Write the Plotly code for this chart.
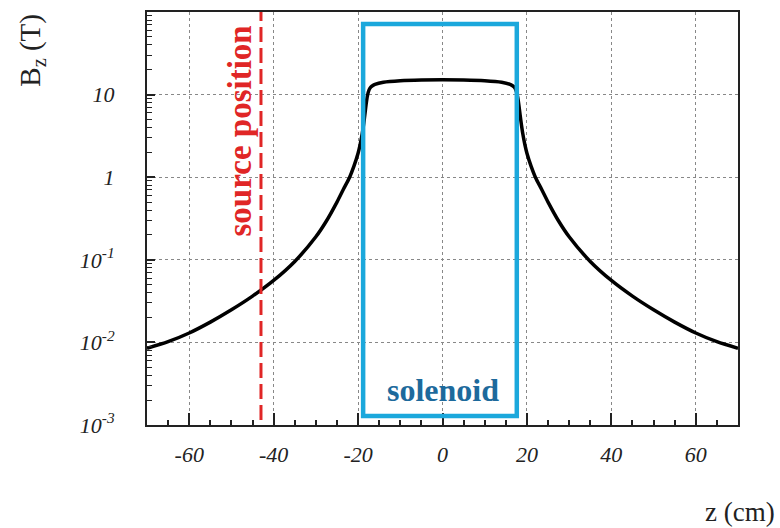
import plotly.graph_objects as go

# Axial field profile B_z(z) along the solenoid axis
z_cm = [-70, -65, -60, -55, -50, -45, -40, -35, -30, -27.5, -25, -23.5, -22, -21, -20,
        -19.5, -19, -18.7, -18.4, -18.1, -17.8, -17.4, -17, -16.5, -16, -14, -10, -5, 0,
        5, 10, 14, 16, 16.5, 17, 17.4, 17.8, 18.1, 18.4, 18.7, 19, 19.5, 20, 21, 22, 23.5, 25, 27.5, 30,
        35, 40, 45, 50, 55, 60, 65, 70]
bz_tesla = [0.0085, 0.0102, 0.0130, 0.0176, 0.0248, 0.0363, 0.0562, 0.0955, 0.19, 0.295, 0.50, 0.71, 1.0, 1.35, 1.95,
            2.5, 3.4, 4.3, 5.7, 7.6, 9.6, 11.4, 12.3, 12.9, 13.3, 14.1, 14.7, 15.0, 15.1,
            15.0, 14.7, 14.1, 13.3, 12.9, 12.3, 11.3, 9.4, 7.4, 5.6, 4.3, 3.4, 2.5, 1.95, 1.35, 1.0, 0.71, 0.50, 0.295, 0.19,
            0.0955, 0.0562, 0.0363, 0.0248, 0.0176, 0.0130, 0.0102, 0.0085]

# Geometry annotations
source_z = -43
solenoid_z = [-18.8, 17.6]

# Tick labels
x_tickvals = [-60, -40, -20, 0, 20, 40, 60]
x_ticktext = ["-60", "-40", "-20", "0", "20", "40", "60"]
y_tickvals = [1e-3, 1e-2, 1e-1, 1, 10]
y_ticktext = ["10<sup>-3</sup>", "10<sup>-2</sup>", "10<sup>-1</sup>", "1", "10"]

SERIF = "Liberation Serif, Times New Roman, serif"

fig = go.Figure()
fig.add_trace(go.Scatter(
    x=z_cm, y=bz_tesla, mode="lines",
    line=dict(color="black", width=3.5, shape="spline", smoothing=0.8),
    showlegend=False, hoverinfo="skip",
))

# source position marker
fig.add_shape(type="line", xref="x", yref="paper",
              x0=source_z, x1=source_z, y0=0.012, y1=1.0,
              line=dict(color="#e02626", width=3, dash="15px,6px"))
fig.add_annotation(x=source_z, xref="x", xshift=-21, y=0.713, yref="paper",
                   xanchor="center", yanchor="middle",
                   text="<b>source position</b>", textangle=-90, showarrow=False,
                   font=dict(family=SERIF, size=33, color="#e02626"))

# solenoid outline
fig.add_shape(type="rect", xref="x", yref="paper",
              x0=solenoid_z[0], x1=solenoid_z[1], y0=0.022, y1=0.971,
              line=dict(color="#1ba8dc", width=4.5), fillcolor="rgba(0,0,0,0)")
fig.add_annotation(x=0, xref="x", y=0.084, yref="paper",
                   xanchor="center", yanchor="middle",
                   text="<b>solenoid</b>", showarrow=False,
                   font=dict(family=SERIF, size=32, color="#1d6a9c"))

# axis titles
fig.add_annotation(x=-0.196, xref="paper", y=1.0, yref="paper",
                   xanchor="center", yanchor="top",
                   text="B<sub>z</sub> (T)", textangle=-90, showarrow=False,
                   font=dict(family=SERIF, size=29, color="#222"))
fig.add_annotation(x=1.003, xref="paper", y=-0.21, yref="paper",
                   xanchor="center", yanchor="middle",
                   text="z (cm)", showarrow=False,
                   font=dict(family=SERIF, size=27, color="#222"))

fig.update_xaxes(
    range=[-70, 70], tickmode="array", tickvals=x_tickvals, ticktext=x_ticktext,
    ticks="inside", ticklen=12, tickwidth=1.5, tickcolor="#222",
    minor=dict(ticks="inside", ticklen=5, tickwidth=1.5, tickcolor="#222", dtick=5, tick0=0, showgrid=False),
    showline=True, linecolor="#222", linewidth=2, mirror=True,
    showgrid=True, gridcolor="#888", gridwidth=1, griddash="dot",
    zeroline=False, ticklabelstandoff=9,
    tickfont=dict(family=SERIF, size=22, color="#222", style="italic"),
)
fig.update_yaxes(
    type="log", range=[-3, 2], tickmode="array", tickvals=y_tickvals, ticktext=y_ticktext,
    ticks="inside", ticklen=8, tickwidth=1.5, tickcolor="#222",
    minor=dict(ticks="inside", ticklen=5, tickwidth=1.2, tickcolor="#222", dtick="D1", showgrid=False),
    showline=True, linecolor="#222", linewidth=2, mirror=True,
    showgrid=True, gridcolor="#888", gridwidth=1, griddash="dot",
    zeroline=False, ticklabelstandoff=26,
    tickfont=dict(family=SERIF, size=22, color="#222", style="italic"),
)

fig.update_layout(
    width=780, height=528,
    margin=dict(l=147, r=42, t=10, b=103),
    paper_bgcolor="white", plot_bgcolor="white",
)

fig.write_html("out.html")
